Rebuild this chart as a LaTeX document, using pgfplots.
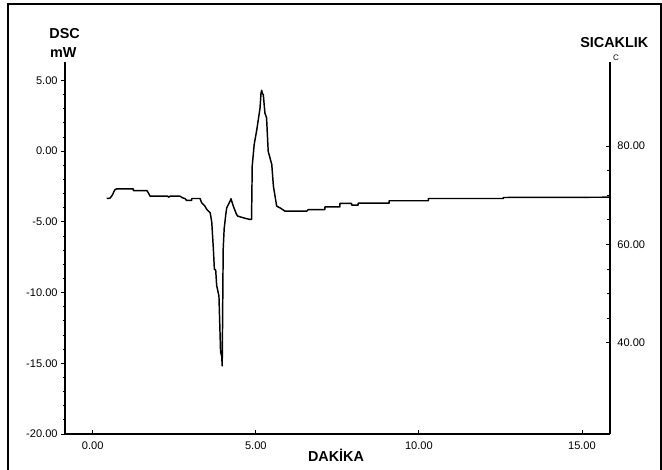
\documentclass[border=0pt]{standalone}
\usepackage{fontspec}
\setmainfont{Liberation Sans}
\usepackage{pgfplots}
\pgfplotsset{compat=1.18}
\pgfplotstableread{
t v
0.43 -3.35
0.53 -3.33
0.60 -3.12
0.68 -2.72
0.74 -2.67
1.24 -2.67
1.25 -2.79
1.66 -2.79
1.70 -2.93
1.76 -3.19
2.30 -3.19
2.33 -3.26
2.37 -3.19
2.68 -3.19
2.75 -3.30
2.83 -3.36
2.88 -3.49
3.03 -3.49
3.04 -3.35
3.29 -3.35
3.34 -3.65
3.44 -3.89
3.50 -4.13
3.60 -4.36
3.62 -4.60
3.65 -5.04
3.70 -6.95
3.73 -8.36
3.77 -8.40
3.80 -9.50
3.87 -10.24
3.90 -12.59
3.92 -14.21
3.955 -14.50
3.97 -15.18
4.00 -6.95
4.03 -5.50
4.08 -4.48
4.11 -4.00
4.21 -3.54
4.24 -3.37
4.31 -3.89
4.41 -4.48
4.45 -4.60
4.67 -4.75
4.82 -4.83
4.87 -4.83
4.89 -1.07
4.95 0.46
5.03 1.50
5.13 3.05
5.16 4.10
5.18 4.30
5.20 4.10
5.23 3.98
5.28 2.69
5.33 2.36
5.38 -0.01
5.49 -0.95
5.54 -2.48
5.59 -3.19
5.64 -3.89
5.69 -3.95
5.74 -4.01
5.90 -4.25
6.56 -4.25
6.61 -4.13
7.12 -4.13
7.12 -3.94
7.58 -3.94
7.58 -3.70
7.94 -3.70
7.94 -3.82
8.14 -3.82
8.14 -3.68
9.09 -3.68
9.09 -3.51
10.29 -3.51
10.29 -3.35
12.59 -3.35
12.59 -3.28
15.86 -3.26
}\dsc
\begin{document}
\begin{tikzpicture}
\useasboundingbox (0,0) rectangle (496.5pt,352.5pt);
\draw[line width=1.1pt] (6pt,-3pt) -- (6pt,349.5pt) -- (495.6pt,349.5pt) -- (495.6pt,-3pt);
\begin{axis}[
  at={(48.75pt,27pt)}, anchor=south west, scale only axis,
  width=408.75pt, height=279pt,
  xmin=-0.85, xmax=15.86, ymin=-20, ymax=6.3,
  axis x line*=bottom, axis y line*=left,
  axis line style={line width=1pt,-},
  tick align=outside,
  major tick length=3pt, minor tick length=1.8pt,
  tick style={black, line width=0.6pt},
  x tick style={yshift=3pt},
  xtick={0,5,10,15}, xticklabels={0.00,5.00,10.00,15.00},
  ytick={-20,-15,-10,-5,0,5}, yticklabels={-20.00,-15.00,-10.00,-5.00,0.00,5.00},
  minor y tick num=4,
  ticklabel style={font=\fontsize{8.3}{9}\selectfont},
  yticklabel style={xshift=1pt},
  xticklabel style={yshift=1pt},
]
\addplot[black, line width=1.1pt, line join=round] table[x=t,y=v] {\dsc};
\end{axis}
\begin{axis}[
  at={(48.75pt,27pt)}, anchor=south west, scale only axis,
  width=408.75pt, height=279pt,
  xmin=-0.85, xmax=15.86, ymin=21.43, ymax=97.08,
  axis x line=none, axis y line*=right,
  axis line style={line width=1pt,-},
  tick align=inside,
  major tick length=3pt, minor tick length=2.5pt,
  tick style={black, line width=0.6pt},
  ytick={40,60,80}, yticklabels={40.00,60.00,80.00},
  minor y tick num=3,
  ticklabel style={font=\fontsize{8.3}{9}\selectfont},
  yticklabel style={xshift=2pt},
]
\end{axis}
\node[font=\bfseries\fontsize{10.8}{12}\selectfont] at (48.5pt,327.2pt) {DSC};
\node[font=\bfseries\fontsize{10.8}{12}\selectfont] at (47.5pt,313.1pt) {mW};
\node[font=\bfseries\fontsize{10.8}{12}\selectfont] at (460.7pt,320.6pt) {SICAKLIK};
\node[font=\fontsize{6}{7}\selectfont] at (462pt,309.5pt) {C};
\node[font=\bfseries\fontsize{10.8}{12}\selectfont] at (252pt,11.25pt) {DAKİKA};
\end{tikzpicture}
\end{document}
